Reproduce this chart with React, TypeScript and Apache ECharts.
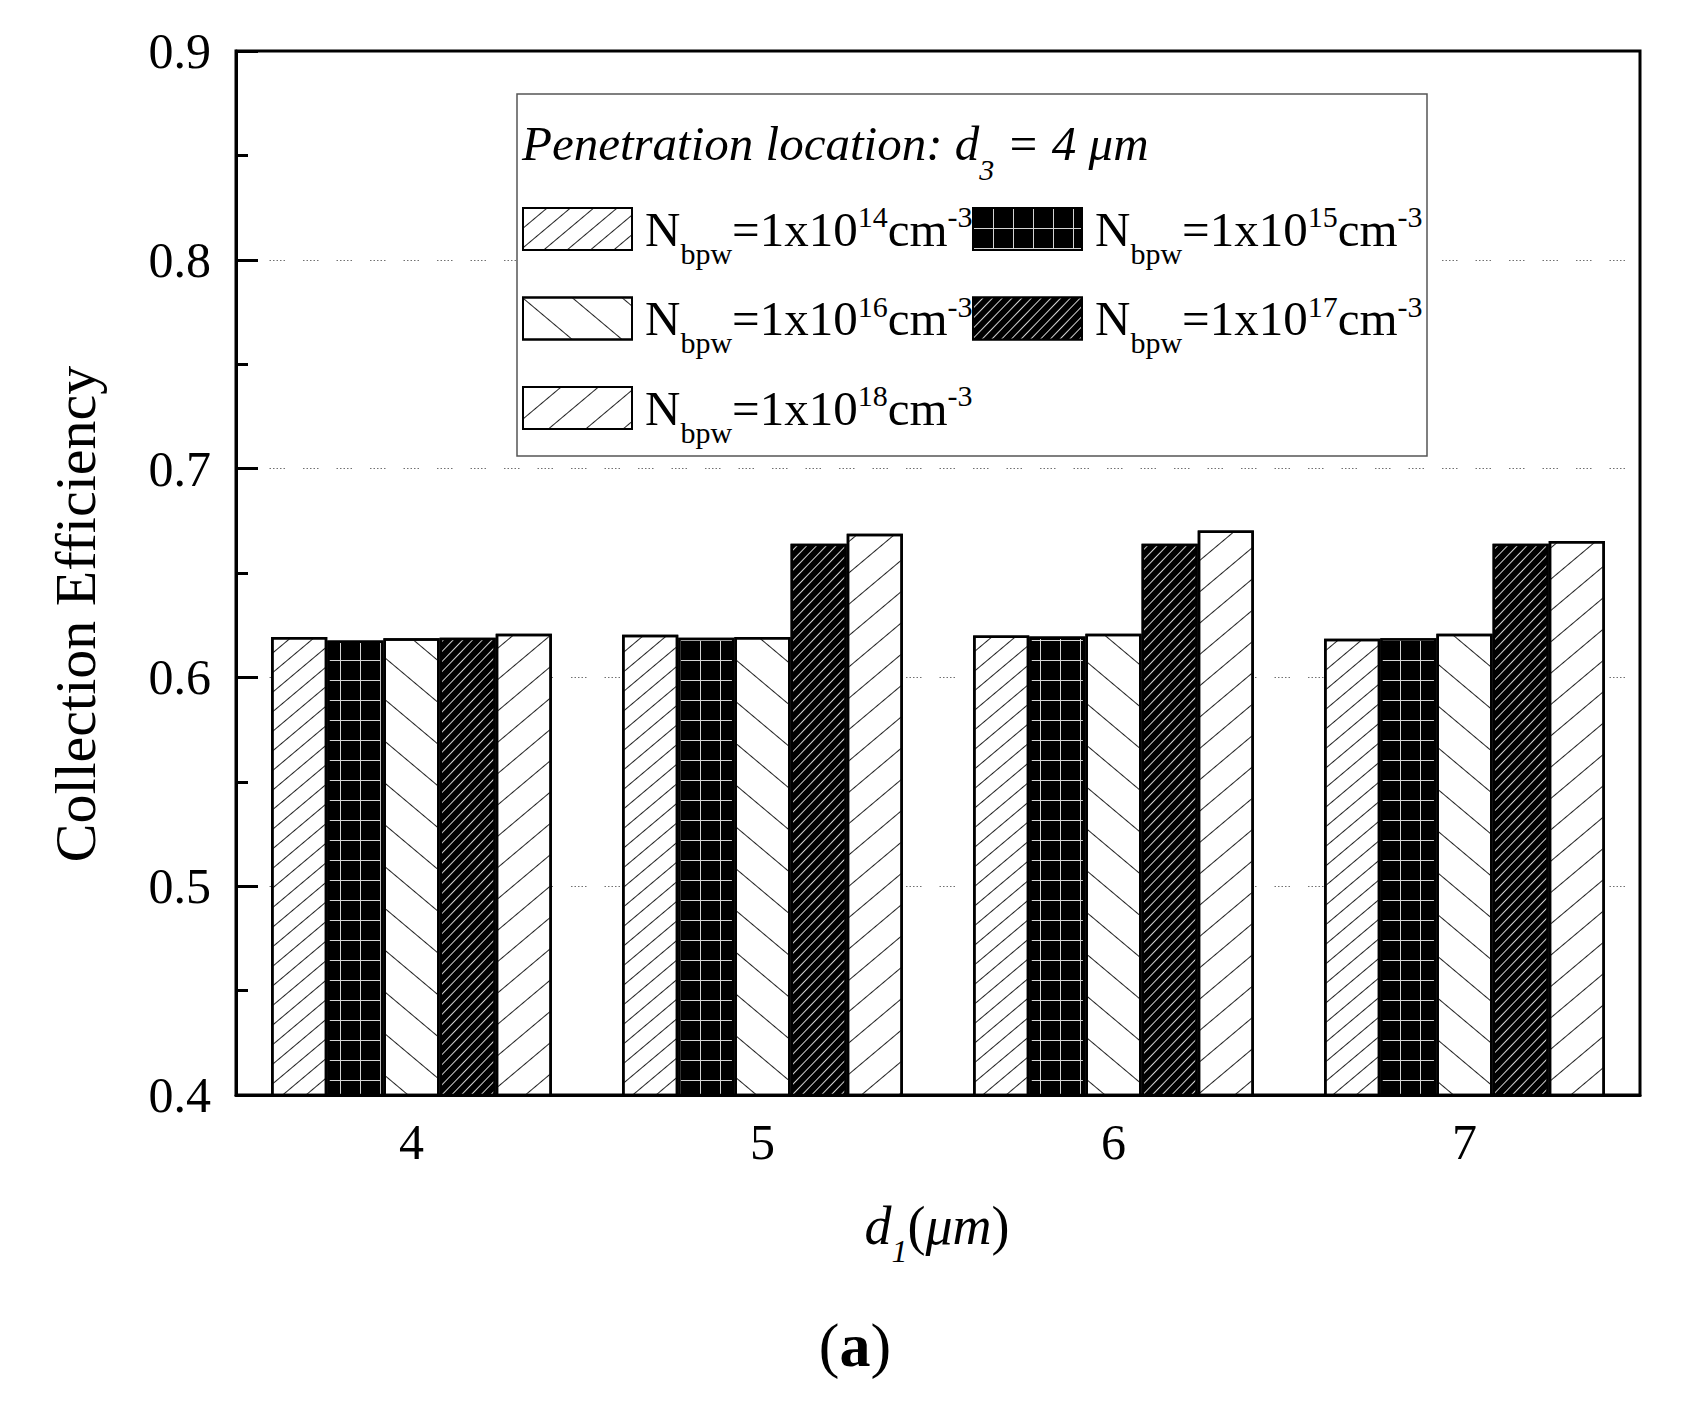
import React, { useEffect, useRef } from 'react';
import * as echarts from 'echarts';

// ---- data ----
const categories = ['4', '5', '6', '7'];
const dopingExponents = ['14', '15', '16', '17', '18'];
const seriesNames = dopingExponents.map((e) => `Nbpw=1x10^${e}cm^-3`);
const eff1e14 = [0.6193, 0.6204, 0.6201, 0.6185];
const eff1e15 = [0.6177, 0.619, 0.6196, 0.6188];
const eff1e16 = [0.6188, 0.6193, 0.6209, 0.6209];
const eff1e17 = [0.619, 0.664, 0.664, 0.664];
const eff1e18 = [0.6209, 0.6688, 0.6703, 0.6653];
const seriesValues = [eff1e14, eff1e15, eff1e16, eff1e17, eff1e18];
const yMin = 0.4;
const yMax = 0.9;
const yStep = 0.1;

const FONT = "'Liberation Serif', 'Times New Roman', Times, serif";

const A1 = (40 * Math.PI) / 180;
const A4 = (46 * Math.PI) / 180;

const decals: any[] = [
  { symbol: 'rect', symbolSize: 1, symbolKeepAspect: false, color: '#222', dashArrayX: [1, 0], dashArrayY: [1, 14], rotation: -A1 },
  {
    symbol: 'rect',
    symbolSize: 1,
    symbolKeepAspect: false,
    color: '#d4d4d4',
    dashArrayX: [[1, 0], [1, 19]],
    dashArrayY: [1, 0, 19, 0],
  },
  { symbol: 'rect', symbolSize: 1, symbolKeepAspect: false, color: '#222', dashArrayX: [1, 0], dashArrayY: [1, 31], rotation: A1 },
  { symbol: 'rect', symbolSize: 1, symbolKeepAspect: false, color: '#d0d0d0', dashArrayX: [1, 0], dashArrayY: [1, 6], rotation: -A4 },
  { symbol: 'rect', symbolSize: 1, symbolKeepAspect: false, color: '#222', dashArrayX: [1, 0], dashArrayY: [1, 23], rotation: -A1 },
];
const fills = ['#ffffff', '#000000', '#ffffff', '#000000', '#ffffff'];

const legendRich = {
  gap: { width: 8 },
  n: { fontFamily: FONT, fontSize: 49, color: '#000', lineHeight: 56 },
  sub: { fontFamily: FONT, fontSize: 30, color: '#000', lineHeight: 56, padding: [48, 0, 0, 0] },
  sup: { fontFamily: FONT, fontSize: 30, color: '#000', lineHeight: 56, padding: [0, 0, 25, 0] },
};

function legendLabel(name: string) {
  const idx = seriesNames.indexOf(name);
  const e = dopingExponents[idx];
  return `{gap|}{n|N}{sub|bpw}{n|=1x10}{sup|${e}}{n|cm}{sup|-3}`;
}

export default function App() {
  const ref = useRef<HTMLDivElement>(null);
  useEffect(() => {
    if (!ref.current) return;
    const chart = echarts.init(ref.current, undefined, { renderer: 'svg' });
    const legendCommon = {
      orient: 'vertical',
      padding: 0,
      itemWidth: 109,
      itemHeight: 42,
      itemGap: 11.5,
      icon: 'rect',
      selectedMode: false,
      formatter: legendLabel,
      textStyle: { rich: legendRich },
      z: 5,
    };
    const option: any = {
      animation: false,
      backgroundColor: '#ffffff',
      grid: {
        left: 236,
        top: 51,
        width: 1404,
        height: 1044,
        show: true,
        borderColor: '#000',
        borderWidth: 3,
        backgroundColor: 'transparent',
      },
      legend: [
        { ...legendCommon, left: 522, top: 190, data: [seriesNames[0], seriesNames[2], seriesNames[4]] },
        { ...legendCommon, left: 972, top: 190, data: [seriesNames[1], seriesNames[3]] },
      ],
      xAxis: [
        {
          type: 'category',
          data: categories,
          position: 'bottom',
          axisLine: { lineStyle: { color: '#000', width: 3 } },
          axisTick: { alignWithLabel: true, inside: true, length: 22, lineStyle: { color: '#000', width: 3 } },
          axisLabel: { fontFamily: FONT, fontSize: 50, color: '#000', margin: 22 },
          splitLine: { show: false },
        },
        {
          type: 'category',
          data: categories,
          position: 'bottom',
          axisLine: { show: false },
          axisTick: { alignWithLabel: false, inside: true, length: 12, lineStyle: { color: '#000', width: 3 } },
          axisLabel: { show: false },
          splitLine: { show: false },
        },
      ],
      yAxis: {
        type: 'value',
        min: yMin,
        max: yMax,
        interval: yStep,
        axisLine: { show: true, lineStyle: { color: '#000', width: 3 } },
        axisTick: { show: true, inside: true, length: 22, lineStyle: { color: '#000', width: 3 } },
        minorTick: { show: true, splitNumber: 2, length: 12, lineStyle: { color: '#000', width: 3 } },
        axisLabel: {
          fontFamily: FONT,
          fontSize: 50,
          color: '#000',
          margin: 25,
          formatter: (v: number) => v.toFixed(1),
        },
        splitLine: {
          show: true,
          showMinLine: false,
          showMaxLine: false,
          lineStyle: {
            color: '#707070',
            width: 1,
            type: [1.5, 2, 1.5, 2, 1.5, 2, 1.5, 2, 1.5, 18],
          },
        },
      },
      series: seriesValues.map((vals, i) => ({
        type: 'bar',
        name: seriesNames[i],
        xAxisIndex: 0,
        data: vals,
        barGap: '0%',
        barCategoryGap: '20%',
        itemStyle: {
          color: fills[i],
          borderColor: '#000',
          borderWidth: 2.5,
          decal: decals[i],
        },
      })),
      graphic: [
        {
          type: 'rect',
          shape: { x: 517, y: 94, width: 910, height: 362 },
          style: { fill: '#ffffff', stroke: '#555', lineWidth: 1.5 },
          z: 3,
        },
        {
          type: 'text',
          x: 522,
          y: 143,
          z: 4,
          style: {
            text: '{i|Penetration location: d}{s|3}{i| = 4 μm}',
            align: 'left',
            verticalAlign: 'middle',
            rich: {
              i: { fontFamily: FONT, fontStyle: 'italic', fontSize: 49, color: '#000', lineHeight: 56 },
              s: { fontFamily: FONT, fontStyle: 'italic', fontSize: 30, color: '#000', lineHeight: 56, padding: [52, 0, 0, 0] },
            },
          },
        },
        {
          type: 'text',
          x: 75,
          y: 614,
          rotation: Math.PI / 2,
          style: {
            text: 'Collection Efficiency',
            fontFamily: FONT,
            fontSize: 58,
            fill: '#000',
            align: 'center',
            verticalAlign: 'middle',
          },
        },
        {
          type: 'text',
          x: 937,
          y: 1226,
          style: {
            text: '{i|d}{s|1}{n|(}{i|μm}{n|)}',
            align: 'center',
            verticalAlign: 'middle',
            rich: {
              i: { fontFamily: FONT, fontStyle: 'italic', fontSize: 54, color: '#000', lineHeight: 60 },
              n: { fontFamily: FONT, fontSize: 54, color: '#000', lineHeight: 60 },
              s: { fontFamily: FONT, fontStyle: 'italic', fontSize: 32, color: '#000', lineHeight: 60, padding: [50, 0, 0, 0] },
            },
          },
        },
        {
          type: 'text',
          x: 855,
          y: 1345,
          style: {
            text: '{n|(}{b|a}{n|)}',
            align: 'center',
            verticalAlign: 'middle',
            rich: {
              n: { fontFamily: FONT, fontSize: 62, color: '#000', lineHeight: 70 },
              b: { fontFamily: FONT, fontSize: 62, fontWeight: 'bold', color: '#000', lineHeight: 70 },
            },
          },
        },
      ],
    };
    chart.setOption(option);
    return () => chart.dispose();
  }, []);
  return (
    <div
      ref={ref}
      style={{ position: 'fixed', left: 0, top: 0, width: 1681, height: 1402, background: '#fff' }}
    />
  );
}
